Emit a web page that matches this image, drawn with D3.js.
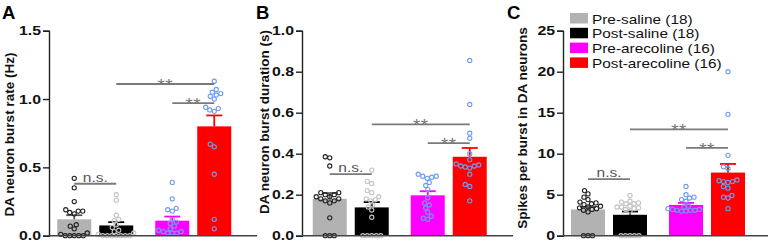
<!DOCTYPE html>
<html><head><meta charset="utf-8">
<script src="https://cdn.jsdelivr.net/npm/d3@7"></script>
<style>
html,body{margin:0;padding:0;background:#fff;}
svg{display:block;font-family:"Liberation Sans",Arial,sans-serif;}
</style></head>
<body><svg id="chart" width="768" height="243"></svg>
<script>
// ---------------- data ----------------
const categories = ["Pre-saline", "Post-saline", "Pre-arecoline", "Post-arecoline"];
const groups = ["saline", "saline", "arecoline", "arecoline"];
const legendLabels = ["Pre-saline (18)", "Post-saline (18)", "Pre-arecoline (16)", "Post-arecoline (16)"];

// Panel A: burst rate (Hz)
const rateMeans = [0.12, 0.075, 0.11, 0.80];
const rateSem = [0.03, 0.024, 0.03, 0.08];
const ratePreSaline = [0.42,0.35,0.25,0.19,0.18,0.18,0.17,0.16,0.08,0.07,0.05,0.02,0.01,0,0,0,0,0];
const ratePostSaline = [0.30,0.26,0.15,0.12,0.11,0.08,0.06,0.04,0.03,0.02,0.01,0,0,0,0,0,0,0];
const ratePreArecoline = [0.39,0.27,0.20,0.19,0.18,0.12,0.10,0.09,0.07,0.05,0.04,0.03,0.03,0.02,0.02,0.02];
const ratePostArecoline = [1.13,1.07,1.05,1.04,1.03,1.02,1.00,0.94,0.93,0.92,0.91,0.67,0.65,0.45,0.12,0.05];
const rateTicks = [0, 0.5, 1.0, 1.5];
const rateSig = [
  {from: "Pre-saline", to: "Post-saline", y: 0.38, label: "n.s."},
  {from: "Post-saline", to: "Post-arecoline", y: 1.11, label: "**"},
  {from: "Pre-arecoline", to: "Post-arecoline", y: 0.97, label: "**"}
];

// Panel B: burst duration (s)
const durMeans = [0.18, 0.138, 0.197, 0.385];
const durSem = [0.028, 0.026, 0.02, 0.043];
const durPreSaline = [0.385,0.38,0.34,0.21,0.21,0.20,0.20,0.19,0.19,0.18,0.18,0.17,0.17,0.16,0.087,0,0,0];
const durPostSaline = [0.32,0.265,0.255,0.22,0.21,0.19,0.18,0.175,0.17,0.15,0.14,0.125,0.09,0,0,0,0,0];
const durPreArecoline = [0.30,0.29,0.29,0.285,0.28,0.26,0.245,0.225,0.185,0.16,0.15,0.135,0.115,0.095,0.085,0.08];
const durPostArecoline = [0.855,0.64,0.50,0.475,0.40,0.37,0.35,0.345,0.34,0.34,0.335,0.33,0.30,0.25,0.24,0.17];
const durTicks = [0, 0.2, 0.4, 0.6, 0.8, 1.0];
const durSig = [
  {from: "Pre-saline", to: "Post-saline", y: 0.30, label: "n.s."},
  {from: "Post-saline", to: "Post-arecoline", y: 0.543, label: "**"},
  {from: "Pre-arecoline", to: "Post-arecoline", y: 0.452, label: "**"}
];

// Panel C: spikes per burst
const spkMeans = [3.2, 2.55, 3.75, 7.7];
const spkSem = [0.3, 0.4, 0.25, 1.05];
const spkPreSaline = [5.5,5.1,4.7,4.4,4.1,4.0,3.9,3.8,3.6,3.5,3.4,3.3,3.2,3.1,2.9,0,0,0];
const spkPostSaline = [4.9,4.2,4.1,4.0,3.9,3.9,3.6,3.5,3.5,3.4,3.3,3.2,3.0,0,0,0,0,0];
const spkPreArecoline = [6.0,5.0,4.7,4.6,4.4,4.2,3.6,3.5,3.3,3.2,3.2,3.1,3.1,3.1,3.0,3.0];
const spkPostArecoline = [20.0,14.8,9.8,8.4,8.2,6.8,6.7,6.6,6.6,6.5,6.0,5.8,4.9,4.7,4.6,3.3];
const spkTicks = [0, 5, 10, 15, 20, 25];
const spkSig = [
  {from: "Pre-saline", to: "Post-saline", y: 6.9, label: "n.s."},
  {from: "Post-saline", to: "Post-arecoline", y: 12.96, label: "**"},
  {from: "Pre-arecoline", to: "Post-arecoline", y: 10.7, label: "**"}
];

// ---------------- styles ----------------
const barColors = ["#b2b2b2", "#000000", "#ff00ff", "#ff0000"];
const errColors = ["#555555", "#000000", "#ff00ff", "#ff0000"];
const dotColors = ["#222222", "#c4c4c4", "#6d9cf0", "#6d9cf0"];
const stretch = 1.2; // the source figure is horizontally stretched

const panels = [
  {letter: "A", letterX: 2, axisX: 49, axisEnd: 257, groupStart: 46.25, title: "DA neuron burst rate (Hz)", titleX: 13.5, titleY: 134.5,
   max: 1.5, ticks: rateTicks, fmt: d3.format(".1f"), means: rateMeans, sem: rateSem,
   points: [ratePreSaline, ratePostSaline, ratePreArecoline, ratePostArecoline], sig: rateSig},
  {letter: "B", letterX: 256, axisX: 302, axisEnd: 513, groupStart: 301.75, title: "DA neuron burst duration (s)", titleX: 269, titleY: 122,
   max: 1.0, ticks: durTicks, fmt: d3.format(".1f"), means: durMeans, sem: durSem,
   points: [durPreSaline, durPostSaline, durPreArecoline, durPostArecoline], sig: durSig},
  {letter: "C", letterX: 507, axisX: 563, axisEnd: 768, groupStart: 560, title: "Spikes per burst in DA neurons", titleX: 527, titleY: 128,
   max: 25, ticks: spkTicks, fmt: d3.format("d"), means: spkMeans, sem: spkSem,
   points: [spkPreSaline, spkPostSaline, spkPreArecoline, spkPostArecoline], sig: spkSig}
];

const svg = d3.select("#chart");
const yTop = 30.7, yBottom = 235.7;
const groupNames = ["saline", "arecoline"];
const dotR = 2.1;

function swarm(values, y, r) {
  // deterministic beeswarm: place points closest to center without overlap
  const order = values.map((v, i) => i).sort((a, b) => values[a] - values[b]);
  const placed = [];
  const out = new Array(values.length);
  const minD = 2 * r + 0.3;
  order.forEach(i => {
    const py = y(values[i]);
    let best = 0;
    for (let k = 0; k < 200; k++) {
      const cand = (k % 2 === 0 ? 1 : -1) * Math.ceil(k / 2) * 0.5;
      const ok = placed.every(p => (p.x - cand) ** 2 + (p.y - py) ** 2 >= minD * minD);
      if (ok) { best = cand; break; }
    }
    placed.push({x: best, y: py});
    out[i] = {x: best, y: py};
  });
  return out;
}

panels.forEach(p => {
  const g = svg.append("g");
  const y = d3.scaleLinear().domain([0, p.max]).range([yBottom, yTop]);
  const outer = d3.scaleBand().domain(groupNames).range([p.groupStart, p.groupStart + 196]);
  const inner = d3.scaleBand().domain(["pre", "post"]).range([0, outer.bandwidth()])
    .paddingInner(0.1905).paddingOuter(0.262);
  const xOf = i => outer(groups[i]) + inner(i % 2 === 0 ? "pre" : "post");
  const cx = i => xOf(i) + inner.bandwidth() / 2;
  const bw = inner.bandwidth();

  // bars
  g.selectAll("rect.bar").data(categories).join("rect")
    .attr("x", (d, i) => xOf(i)).attr("width", bw)
    .attr("y", (d, i) => y(p.means[i])).attr("height", (d, i) => y(0) - y(p.means[i]))
    .attr("fill", (d, i) => barColors[i]);

  // error bars
  categories.forEach((c, i) => {
    const top = y(p.means[i] + p.sem[i]);
    g.append("line").attr("x1", cx(i)).attr("x2", cx(i)).attr("y1", y(p.means[i])).attr("y2", top)
      .attr("stroke", errColors[i]).attr("stroke-width", 1.8);
    g.append("line").attr("x1", cx(i) - 8).attr("x2", cx(i) + 8).attr("y1", top).attr("y2", top)
      .attr("stroke", errColors[i]).attr("stroke-width", 1.8);
  });

  // points
  p.points.forEach((vals, i) => {
    const pos = swarm(vals, y, dotR);
    g.selectAll(null).data(pos).join("circle")
      .attr("cx", d => cx(i) + d.x).attr("cy", d => d.y).attr("r", dotR)
      .attr("fill", "none").attr("stroke", dotColors[i]).attr("stroke-width", 1.1);
  });

  // y axis
  const axis = d3.axisLeft(y).tickValues(p.ticks).tickFormat(p.fmt).tickSize(6).tickPadding(2);
  const ag = g.append("g").attr("transform", `translate(${p.axisX},0)`).call(axis);
  ag.select(".domain").attr("stroke", "#222").attr("stroke-width", 1.4);
  ag.selectAll(".tick line").attr("stroke", "#222").attr("stroke-width", 1.4);
  ag.selectAll(".tick text").attr("font-size", 13.2).attr("font-weight", "bold").attr("fill", "#111")
    .attr("font-family", "Liberation Sans, Arial, sans-serif")
    .each(function() {
      const t = d3.select(this);
      const x0 = +t.attr("x");
      t.attr("x", 0).attr("transform", `translate(${x0},0) scale(${stretch},1)`);
    });

  // x axis baseline
  g.append("line").attr("x1", p.axisX).attr("x2", p.axisEnd).attr("y1", y(0)).attr("y2", y(0))
    .attr("stroke", "#444").attr("stroke-width", 1.6);

  // title
  g.append("text").attr("transform", `translate(${p.titleX},${p.titleY}) rotate(-90)`)
    .attr("text-anchor", "middle").attr("font-size", 13.5).attr("font-weight", "bold").attr("fill", "#111")
    .text(p.title);

  // panel letter
  g.append("text").attr("x", p.letterX).attr("y", 18.5).attr("font-size", 18.5).attr("font-weight", "bold")
    .attr("fill", "#000").text(p.letter);

  // significance
  p.sig.forEach(s => {
    const i1 = categories.indexOf(s.from), i2 = categories.indexOf(s.to);
    const ly = y(s.y);
    g.append("line").attr("x1", cx(i1)).attr("x2", cx(i2)).attr("y1", ly).attr("y2", ly)
      .attr("stroke", "#7a7a7a").attr("stroke-width", 1.8);
    const mid = (cx(i1) + cx(i2)) / 2;
    if (s.label === "**") {
      g.append("text").attr("transform", `translate(${mid},${ly + 7}) scale(1.1,1)`).attr("text-anchor", "middle")
        .attr("font-size", 17).attr("fill", "#777").attr("letter-spacing", 0.5).text(s.label);
    } else {
      g.append("text").attr("transform", `translate(${mid},${ly - 2}) scale(1.15,1)`).attr("text-anchor", "middle")
        .attr("font-size", 13.5).attr("fill", "#555").text(s.label);
    }
  });
});

// legend (in panel C)
const lg = svg.append("g").attr("transform", "translate(570,13)");
legendLabels.forEach((lab, i) => {
  lg.append("rect").attr("x", 0).attr("y", i * 14.8).attr("width", 18).attr("height", 10.5).attr("fill", barColors[i]);
  lg.append("text").attr("transform", `translate(22,${i * 14.8 + 10.6}) scale(${stretch},1)`)
    .attr("font-size", 12.8).attr("fill", "#111").text(lab);
});
</script></body></html>
